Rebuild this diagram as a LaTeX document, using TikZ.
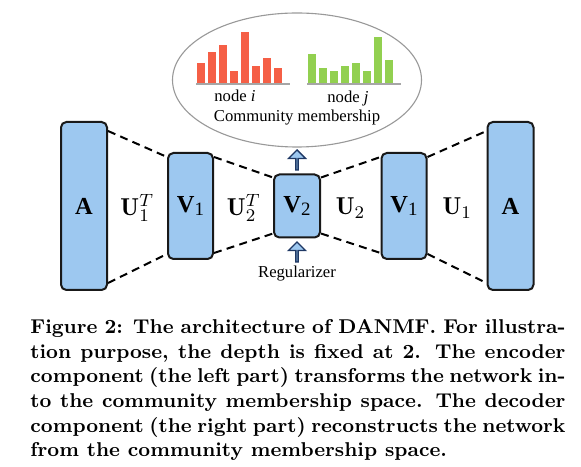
\documentclass[tikz,border=0pt]{standalone}
\usepackage{fontspec}
\usepackage{amsmath,amssymb}
\usetikzlibrary{calc, shapes.arrows, shapes.geometric}
\newfontfamily\timesfont{Liberation Serif}
\newcommand{\px}{0.45pt}
\newlength{\capwidth}
\setlength{\capwidth}{240.75pt}
\definecolor{boxblue}{RGB}{157,200,240}
\definecolor{arrowblue}{RGB}{31,56,100}
\definecolor{barred}{RGB}{245,95,70}
\definecolor{bargreen}{RGB}{146,208,80}

\begin{document}
\begin{tikzpicture}[x=\px, y=-\px,
    mat/.style={draw=black!90, line width=0.9pt, fill=boxblue, rounded corners=2.4pt, inner sep=0pt},
    link/.style={black, line width=0.9pt, dash pattern=on 3.6pt off 2.4pt},
    ulabel/.style={font=\fontsize{11}{13}\selectfont},
    vlabel/.style={font=\timesfont\fontsize{11}{13}\selectfont\bfseries},
    small/.style={font=\timesfont\fontsize{7.5}{9}\selectfont, inner sep=0pt},
    blockarrow/.style={single arrow, draw=arrowblue, fill=boxblue, line width=0.6pt, rotate=90,
        minimum height=20*\px, minimum width=17*\px, single arrow head extend=4.5*\px, inner sep=0pt}]
    \useasboundingbox (0,0) rectangle (581,467);

    % community membership
    \node[draw=gray!80, line width=0.5pt, ellipse, minimum width=249*\px, minimum height=134*\px] (cm) at (297,80) {};
    \foreach \i/\t in {0/63, 1/52, 2/45, 3/71, 4/32, 5/66, 6/58, 7/68}
        \fill[barred] ({197+11*\i},\t) rectangle ++(8,{84-\t});
    \foreach \i/\t in {0/54, 1/68, 2/71, 3/66, 4/63, 5/71, 6/37, 7/60}
        \fill[bargreen] ({308+11*\i},\t) rectangle ++(8,{84-\t});
    \draw[gray!70, line width=0.5pt] (196,84) -- (290,84);
    \draw[gray!70, line width=0.5pt] (307,84) -- (401,84);
    \node[small] (ni) at (235,96) {node \textit{i}};
    \node[small] (nj) at (348,98) {node \textit{j}};
    \node[small] (cmtext) at (297,118) {Community membership};

    % encoder and decoder
    \node[mat, minimum width=46*\px, minimum height=168*\px] (A1) at (84,206) {};
    \node[mat, minimum width=45*\px, minimum height=106*\px] (V1) at (190.5,206) {};
    \node[mat, minimum width=46*\px, minimum height=63*\px] (V2) at (297,206) {};
    \node[mat, minimum width=45*\px, minimum height=106*\px] (V3) at (404,206) {};
    \node[mat, minimum width=46*\px, minimum height=168*\px] (A2) at (510.5,206) {};
    \node[vlabel] at (A1) {A};
    \node[vlabel] at (V1) {V{\mdseries\fontsize{8.5}{9}\selectfont\raisebox{-0.3ex}{1}}};
    \node[vlabel] at (V2) {V{\mdseries\fontsize{8.5}{9}\selectfont\raisebox{-0.3ex}{2}}};
    \node[vlabel] at (V3) {V{\mdseries\fontsize{8.5}{9}\selectfont\raisebox{-0.3ex}{1}}};
    \node[vlabel] at (A2) {A};

    \draw[link] ($(A1.north east)+(0,10)$) -- ($(V1.north west)+(0,5)$);
    \draw[link] ($(A1.south east)+(0,-8)$) -- ($(V1.south west)+(0,-6)$);
    \draw[link] ($(V1.north east)+(0,5)$) -- ($(V2.north west)+(0,4)$);
    \draw[link] ($(V1.south east)+(0,-7)$) -- ($(V2.south west)+(0,-5)$);
    \draw[link] ($(V2.north east)+(0,4)$) -- ($(V3.north west)+(0,5)$);
    \draw[link] ($(V2.south east)+(0,-5)$) -- ($(V3.south west)+(0,-7)$);
    \draw[link] ($(V3.north east)+(0,5)$) -- ($(A2.north west)+(0,10)$);
    \draw[link] ($(V3.south east)+(0,-6)$) -- ($(A2.south west)+(0,-8)$);

    \node[ulabel] (u1t) at ($(A1)!0.5!(V1)+(0,2)$) {$\mathbf{U}_1^T$};
    \node[ulabel] (u2t) at ($(V1)!0.5!(V2)+(0,2)$) {$\mathbf{U}_2^T$};
    \node[ulabel] (u2) at ($(V2)!0.5!(V3)+(0,2)$) {$\mathbf{U}_2$};
    \node[ulabel] (u1) at ($(V3)!0.5!(A2)+(0,2)$) {$\mathbf{U}_1$};

    % regularizer
    \node[blockarrow] (out) at ($(V2.north)+(0,-13)$) {};
    \node[blockarrow] (reg) at ($(V2.south)+(0,14)$) {};
    \node[small] (regtext) at (297,274) {Regularizer};

    % caption
    \node[anchor=north west, inner sep=0pt, align=left, font=\fontsize{9}{11.1}\selectfont\bfseries] (cap) at (30,319) {%
        \makebox[\capwidth][s]{Figure 2: The architecture of DANMF. For illustra-}\\
        \makebox[\capwidth][s]{tion purpose, the depth is fixed at 2. The encoder}\\
        \makebox[\capwidth][s]{component (the left part) transforms the network in-}\\
        \makebox[\capwidth][s]{to the community membership space. The decoder}\\
        \makebox[\capwidth][s]{component (the right part) reconstructs the network}\\
        from the community membership space.};
\end{tikzpicture}
\end{document}
